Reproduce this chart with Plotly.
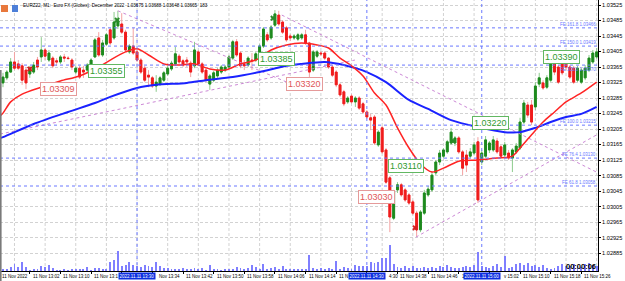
import plotly.graph_objects as go

TITLE = "EURZ22, M1:  Euro FX (Globex): December 2022  1.03675 1.03688 1.03648 1.03665  183"

# ---- one-minute bars, 11 Nov 2022 12:55 ... 15:30 (bar index 0..155) ----
open_ = [1.03324, 1.03337, 1.03352, 1.03378, 1.03373, 1.03368, 1.03357, 1.03347, 1.03352, 1.03383,
         1.03391, 1.03409, 1.03383, 1.03388, 1.03381, 1.03378, 1.03391, 1.03388, 1.03383, 1.03352,
         1.03362, 1.03357, 1.03357, 1.03362, 1.03391, 1.03440, 1.03396, 1.03424, 1.03461, 1.03440,
         1.03471, 1.03476, 1.03455, 1.03404, 1.03419, 1.03404, 1.03383, 1.03362, 1.03344, 1.03337,
         1.03316, 1.03321, 1.03331, 1.03347, 1.03360, 1.03373, 1.03393, 1.03381, 1.03383, 1.03375,
         1.03368, 1.03404, 1.03373, 1.03357, 1.03321, 1.03331, 1.03342, 1.03352, 1.03357, 1.03365,
         1.03388, 1.03430, 1.03401, 1.03373, 1.03370, 1.03383, 1.03383, 1.03388, 1.03419, 1.03448,
         1.03440, 1.03473, 1.03499, 1.03481, 1.03466, 1.03445, 1.03440, 1.03437, 1.03440, 1.03448,
         1.03427, 1.03357, 1.03393, 1.03401, 1.03401, 1.03388, 1.03365, 1.03352, 1.03319, 1.03301,
         1.03275, 1.03290, 1.03275, 1.03285, 1.03270, 1.03249, 1.03234, 1.03236, 1.03164, 1.03208,
         1.03151, 1.03079, 1.02975, 1.03048, 1.03061, 1.03048, 1.03035, 1.03017, 1.02988, 1.02945,
         1.02988, 1.03035, 1.03048, 1.03092, 1.03120, 1.03135, 1.03146, 1.03169, 1.03169, 1.03182,
         1.03146, 1.03138, 1.03135, 1.03143, 1.03172, 1.03120, 1.03135, 1.03151, 1.03151, 1.03174,
         1.03159, 1.03138, 1.03143, 1.03130, 1.03146, 1.03156, 1.03223, 1.03267, 1.03267, 1.03262,
         1.03321, 1.03324, 1.03313, 1.03331, 1.03375, 1.03365, 1.03399, 1.03388, 1.03365, 1.03362,
         1.03331, 1.03326, 1.03337, 1.03357, 1.03378, 1.03391]
high = [1.03350, 1.03357, 1.03388, 1.03404, 1.03383, 1.03375, 1.03365, 1.03368, 1.03378, 1.03391,
        1.03442, 1.03414, 1.03409, 1.03393, 1.03388, 1.03396, 1.03399, 1.03393, 1.03388, 1.03368,
        1.03368, 1.03368, 1.03375, 1.03388, 1.03440, 1.03455, 1.03435, 1.03453, 1.03466, 1.03507,
        1.03510, 1.03504, 1.03461, 1.03424, 1.03466, 1.03409, 1.03388, 1.03368, 1.03357, 1.03342,
        1.03344, 1.03342, 1.03355, 1.03368, 1.03381, 1.03417, 1.03399, 1.03386, 1.03391, 1.03381,
        1.03430, 1.03409, 1.03378, 1.03362, 1.03347, 1.03355, 1.03362, 1.03370, 1.03370, 1.03396,
        1.03435, 1.03437, 1.03406, 1.03383, 1.03393, 1.03401, 1.03404, 1.03424, 1.03468, 1.03455,
        1.03473, 1.03512, 1.03510, 1.03486, 1.03471, 1.03450, 1.03450, 1.03453, 1.03453, 1.03461,
        1.03430, 1.03409, 1.03409, 1.03406, 1.03406, 1.03391, 1.03370, 1.03357, 1.03324, 1.03306,
        1.03290, 1.03295, 1.03290, 1.03290, 1.03275, 1.03254, 1.03244, 1.03241, 1.03202, 1.03213,
        1.03156, 1.03084, 1.03048, 1.03068, 1.03066, 1.03053, 1.03040, 1.03022, 1.02994, 1.02996,
        1.03048, 1.03058, 1.03094, 1.03125, 1.03151, 1.03156, 1.03177, 1.03208, 1.03187, 1.03187,
        1.03151, 1.03151, 1.03156, 1.03172, 1.03184, 1.03151, 1.03187, 1.03174, 1.03187, 1.03182,
        1.03164, 1.03172, 1.03151, 1.03156, 1.03169, 1.03234, 1.03280, 1.03275, 1.03280, 1.03326,
        1.03350, 1.03331, 1.03344, 1.03393, 1.03409, 1.03370, 1.03404, 1.03393, 1.03370, 1.03368,
        1.03368, 1.03362, 1.03370, 1.03396, 1.03409, 1.03414]
low = [1.03313, 1.03331, 1.03350, 1.03357, 1.03357, 1.03319, 1.03308, 1.03337, 1.03347, 1.03357,
       1.03378, 1.03383, 1.03378, 1.03362, 1.03368, 1.03373, 1.03378, 1.03383, 1.03357, 1.03347,
       1.03334, 1.03337, 1.03352, 1.03357, 1.03388, 1.03391, 1.03391, 1.03419, 1.03422, 1.03435,
       1.03463, 1.03450, 1.03404, 1.03399, 1.03396, 1.03378, 1.03347, 1.03326, 1.03313, 1.03311,
       1.03301, 1.03316, 1.03326, 1.03342, 1.03355, 1.03368, 1.03373, 1.03365, 1.03365, 1.03339,
       1.03362, 1.03368, 1.03347, 1.03326, 1.03306, 1.03326, 1.03337, 1.03347, 1.03352, 1.03360,
       1.03383, 1.03391, 1.03362, 1.03357, 1.03365, 1.03357, 1.03378, 1.03383, 1.03414, 1.03430,
       1.03435, 1.03468, 1.03471, 1.03450, 1.03430, 1.03432, 1.03435, 1.03432, 1.03435, 1.03422,
       1.03339, 1.03352, 1.03388, 1.03393, 1.03383, 1.03360, 1.03339, 1.03313, 1.03288, 1.03264,
       1.03270, 1.03270, 1.03262, 1.03254, 1.03244, 1.03231, 1.03202, 1.03164, 1.03159, 1.03141,
       1.03063, 1.02939, 1.02970, 1.03040, 1.03030, 1.03017, 1.03009, 1.02983, 1.02927, 1.02939,
       1.02983, 1.03030, 1.03043, 1.03086, 1.03112, 1.03130, 1.03141, 1.03164, 1.03161, 1.03141,
       1.03086, 1.03094, 1.03130, 1.03138, 1.03014, 1.03112, 1.03130, 1.03143, 1.03146, 1.03141,
       1.03130, 1.03133, 1.03125, 1.03094, 1.03141, 1.03151, 1.03218, 1.03234, 1.03215, 1.03254,
       1.03313, 1.03306, 1.03308, 1.03326, 1.03344, 1.03321, 1.03344, 1.03357, 1.03334, 1.03321,
       1.03326, 1.03321, 1.03331, 1.03352, 1.03373, 1.03386]
close = [1.03339, 1.03352, 1.03378, 1.03362, 1.03362, 1.03331, 1.03324, 1.03362, 1.03370, 1.03365,
         1.03409, 1.03393, 1.03401, 1.03368, 1.03378, 1.03391, 1.03388, 1.03387, 1.03365, 1.03362,
         1.03339, 1.03352, 1.03370, 1.03383, 1.03435, 1.03396, 1.03427, 1.03448, 1.03427, 1.03481,
         1.03484, 1.03455, 1.03409, 1.03419, 1.03401, 1.03383, 1.03352, 1.03331, 1.03339, 1.03316,
         1.03326, 1.03337, 1.03350, 1.03362, 1.03375, 1.03399, 1.03378, 1.03370, 1.03378, 1.03352,
         1.03409, 1.03373, 1.03352, 1.03331, 1.03342, 1.03350, 1.03357, 1.03365, 1.03365, 1.03391,
         1.03430, 1.03396, 1.03368, 1.03368, 1.03388, 1.03381, 1.03399, 1.03419, 1.03463, 1.03435,
         1.03468, 1.03502, 1.03476, 1.03455, 1.03435, 1.03440, 1.03445, 1.03448, 1.03448, 1.03427,
         1.03352, 1.03404, 1.03404, 1.03399, 1.03388, 1.03365, 1.03344, 1.03319, 1.03293, 1.03270,
         1.03285, 1.03275, 1.03285, 1.03259, 1.03249, 1.03236, 1.03228, 1.03169, 1.03197, 1.03146,
         1.03068, 1.02978, 1.03043, 1.03061, 1.03035, 1.03022, 1.03014, 1.02988, 1.02945, 1.02991,
         1.03040, 1.03050, 1.03086, 1.03120, 1.03143, 1.03151, 1.03172, 1.03197, 1.03182, 1.03146,
         1.03104, 1.03112, 1.03146, 1.03164, 1.03022, 1.03143, 1.03177, 1.03169, 1.03177, 1.03146,
         1.03135, 1.03164, 1.03130, 1.03151, 1.03161, 1.03223, 1.03272, 1.03241, 1.03223, 1.03316,
         1.03337, 1.03311, 1.03337, 1.03383, 1.03352, 1.03326, 1.03350, 1.03365, 1.03339, 1.03326,
         1.03362, 1.03357, 1.03362, 1.03388, 1.03401, 1.03404]
volume = [80, 80, 140, 235, 140, 325, 150, 35, 60, 46,
          175, 140, 210, 95, 35, 25, 60, 35, 60, 46,
          60, 80, 150, 35, 95, 105, 70, 46, 315, 395,
          700, 185, 220, 315, 220, 175, 140, 210, 185, 130,
          315, 165, 95, 95, 60, 60, 80, 95, 46, 70,
          95, 46, 95, 35, 210, 46, 46, 35, 46, 70,
          80, 140, 115, 46, 95, 210, 140, 80, 235, 80,
          95, 140, 60, 175, 70, 70, 60, 46, 60, 70,
          560, 95, 80, 115, 70, 95, 46, 350, 80, 140,
          95, 70, 210, 175, 175, 175, 325, 290, 315, 445,
          445, 910, 255, 140, 95, 175, 115, 175, 95, 95,
          140, 95, 140, 115, 175, 140, 210, 140, 95, 95,
          140, 175, 140, 210, 675, 175, 140, 95, 175, 235,
          140, 525, 95, 140, 235, 290, 210, 290, 165, 210,
          140, 210, 95, 60, 115, 175, 235, 175, 175, 235,
          175, 140, 235, 290, 210, 183]

# moving averages (bar index, price)
ma_fast_idx = [-1, 0, 2, 5, 10, 15, 20, 25, 28, 32, 35, 38, 42, 46, 50, 54, 58, 62, 66, 70, 74, 78,
               82, 85, 88, 91, 94, 97, 100, 103, 106, 109, 112, 115, 119, 124, 129, 133, 135, 138,
               141, 144, 147, 151, 155]
ma_fast = [1.03236, 1.03246, 1.03275, 1.03295, 1.03313, 1.03329, 1.03342, 1.03365, 1.03383, 1.03404,
           1.03412, 1.03396, 1.03373, 1.03370, 1.03373, 1.03360, 1.03357, 1.03373, 1.03383, 1.03409,
           1.03422, 1.03427, 1.03422, 1.03414, 1.03388, 1.03368, 1.03342, 1.03298, 1.03267, 1.03208,
           1.03156, 1.03115, 1.03094, 1.03104, 1.03122, 1.03125, 1.03130, 1.03135, 1.03156, 1.03190,
           1.03223, 1.03249, 1.03275, 1.03298, 1.03326]
ma_slow_idx = [-1, 0, 8, 17, 24, 28, 35, 40, 48, 53, 60, 67, 74, 78, 84, 89, 95, 100, 106, 111,
               117, 124, 131, 135, 139, 143, 147, 151, 155]
ma_slow = [1.03181, 1.03184, 1.03218, 1.03249, 1.03272, 1.03288, 1.03311, 1.03319, 1.03324, 1.03331,
           1.03339, 1.03352, 1.03368, 1.03373, 1.03378, 1.03370, 1.03352, 1.03326, 1.03280, 1.03257,
           1.03228, 1.03210, 1.03197, 1.03197, 1.03208, 1.03223, 1.03236, 1.03244, 1.03262]

# axis ticks
price_ticks = [1.03525, 1.03485, 1.03445, 1.03405, 1.03365, 1.03325, 1.03285, 1.03245, 1.03205,
               1.03165, 1.03125, 1.03085, 1.03045, 1.03005, 1.02965, 1.02925, 1.02885]
time_tick_idx = [7, 15, 23, 31, 39, 47, 55, 63, 71, 79, 87, 95, 103, 111, 119, 127, 135, 143, 151]
time_tick_text = ["11 Nov 13:02", "11 Nov 13:10", "11 Nov 13:18", "11 Nov 13:26", "11 Nov 13:34",
                  "11 Nov 13:42", "11 Nov 13:50", "11 Nov 13:58", "11 Nov 14:06", "11 Nov 14:14",
                  "11 Nov 14:22", "11 Nov 14:30", "11 Nov 14:38", "11 Nov 14:46", "11 Nov 14:54",
                  "11 Nov 15:02", "11 Nov 15:10", "11 Nov 15:18", "11 Nov 15:26"]
grid_idx = [3, 11, 19, 27, 35, 43, 51, 59, 67, 75, 83, 91, 99, 107, 115, 123, 131, 139, 147, 155]
vline_idx = [35, 95, 125]
vline_text = ["2022.11.11 13:30", "2022.11.11 14:30", "2022.11.11 15:00"]

# Fibonacci expansion levels
fe_names = ["FE 161.8", "FE 150.0", "FE 100.0", "FE 100.0", "FE 76.4", "FE 61.8"]
fe_levels = [1.03466, 1.03419, 1.03370, 1.03215, 1.03130, 1.03058]
fe_label_below = [False, False, True, False, False, False]

# price label boxes
label_idx = [14.6, 27.0, 71.5, 78.6, 97.4, 105.2, 127.4, 145.8]
label_price = [1.03309, 1.03355, 1.03385, 1.03320, 1.03030, 1.03110, 1.03220, 1.03390]
label_side = ["dn", "up", "up", "dn", "dn", "up", "up", "up"]

# cross marks
mark_idx = [7, 29.8, 70.5, 107.6, 117.5, 142.3]
mark_price = [1.03360, 1.03486, 1.03491, 1.02950, 1.03174, 1.03381]
mark_side = ["dn", "up", "up", "dn", "up", "up"]

# dotted trend lines (start idx, start price, end idx, end price)
trend_x0 = [30.0, 72.8, -0.78, 107.8]
trend_p0 = [1.03510, 1.03499, 1.03192, 1.02926]
trend_x1 = [78.9, 155.35, 91.9, 155.35]
trend_p1 = [1.03306, 1.03092, 1.03383, 1.03192]

# ------------------------------------------------------------------
W, H = 625, 281
ML, MR, MT, MB = 0, 27, 0, 10
PW, PH = W - ML - MR, H - MT - MB
X_RANGE = [-0.78, 155.35]
Y_RANGE = [1.028387, 1.035379]
VOL_PER_PX = 35.0
PX_PER_BAR = PW / (X_RANGE[1] - X_RANGE[0])
HL_HALF = 19.0        # half width (px) of the blue time highlight boxes
CHAR_PX = 2.25        # approx width (px) of one character of the small axis font

FONT = "Liberation Sans"
UP_BODY, DN_BODY = "#1e8a1e", "#f01c1c"
UP_WICK, DN_WICK = "#8ccb8c", "#f3a2a2"
BLUE = "#6a78ff"
PINK = "#cc88d6"

idx = list(range(len(open_)))
body_hi = [max(o, c) for o, c in zip(open_, close)]
body_lo = [min(o, c) for o, c in zip(open_, close)]

fig = go.Figure()

fig.add_trace(go.Bar(x=idx, y=volume, yaxis="y2", width=0.24,
                     marker=dict(color="#7f7fff", line=dict(width=0)),
                     hoverinfo="skip", showlegend=False))

fig.add_trace(go.Candlestick(x=idx, open=open_, high=high, low=low, close=close,
                             increasing=dict(line=dict(color=UP_WICK, width=1), fillcolor=UP_WICK),
                             decreasing=dict(line=dict(color=DN_WICK, width=1), fillcolor=DN_WICK),
                             whiskerwidth=0, hoverinfo="skip", showlegend=False))
fig.add_trace(go.Candlestick(x=idx, open=open_, high=body_hi, low=body_lo, close=close,
                             increasing=dict(line=dict(color=UP_BODY, width=1), fillcolor=UP_BODY),
                             decreasing=dict(line=dict(color=DN_BODY, width=1), fillcolor=DN_BODY),
                             whiskerwidth=0, hoverinfo="skip", showlegend=False))

for x0, p0, x1, p1 in zip(trend_x0, trend_p0, trend_x1, trend_p1):
    fig.add_trace(go.Scatter(x=[x0, x1], y=[p0, p1], mode="lines",
                             line=dict(color=PINK, width=1, dash="dot"),
                             hoverinfo="skip", showlegend=False))

fig.add_trace(go.Scatter(x=ma_slow_idx, y=ma_slow, mode="lines",
                         line=dict(color="#1a22ff", width=2, shape="spline", smoothing=0.8),
                         hoverinfo="skip", showlegend=False))
fig.add_trace(go.Scatter(x=ma_fast_idx, y=ma_fast, mode="lines",
                         line=dict(color="#ff2424", width=1.5, shape="spline", smoothing=0.8),
                         hoverinfo="skip", showlegend=False))

fig.add_trace(go.Scatter(x=mark_idx, y=mark_price, mode="markers",
                         marker=dict(symbol="x", size=5,
                                     color=["#2a8a2a" if s == "up" else "#d42020" for s in mark_side],
                                     line=dict(width=0)),
                         hoverinfo="skip", showlegend=False))

shapes = []
for g in grid_idx:
    shapes.append(dict(type="line", xref="x", yref="paper", x0=g, x1=g, y0=0, y1=1,
                       line=dict(color="#d2d2d2", width=1, dash="3px,2px"), layer="below"))
for lv in fe_levels:
    shapes.append(dict(type="line", xref="paper", yref="y", x0=0, x1=1, y0=lv, y1=lv,
                       line=dict(color=BLUE, width=1, dash="dot")))
for v in vline_idx:
    shapes.append(dict(type="line", xref="x", yref="paper", x0=v, x1=v, y0=0, y1=1,
                       line=dict(color=BLUE, width=1, dash="dot")))
shapes.append(dict(type="rect", xref="paper", yref="paper", x0=1 / PW, x1=8 / PW,
                   y0=1 - 12 / PH, y1=1 - 5 / PH, fillcolor="#e8783c", line=dict(width=0)))
shapes.append(dict(type="rect", xref="paper", yref="paper", x0=12 / PW, x1=18 / PW,
                   y0=1 - 12 / PH, y1=1 - 5 / PH, fillcolor="#4d7fd8", line=dict(width=0)))
shapes.append(dict(type="line", xref="paper", yref="paper", x0=0.001, x1=0.001,
                   y0=-MB / PH, y1=1 - 70 / PH, line=dict(color="#7a7a7a", width=2)))

ann = []
ann.append(dict(text=TITLE, xref="paper", yref="paper", x=21 / PW, y=1 - 5.5 / PH,
                xanchor="left", yanchor="middle", showarrow=False,
                font=dict(family=FONT, size=4.6, color="#000000")))

for name, lv, below in zip(fe_names, fe_levels, fe_label_below):
    ann.append(dict(text=f"{name} {lv:.5f}", xref="paper", yref="y", x=1, y=lv,
                    xanchor="right", yanchor="top" if below else "bottom", showarrow=False,
                    yshift=0 if below else -1,
                    font=dict(family=FONT, size=4.5, color=BLUE)))

for li, lp, ls in zip(label_idx, label_price, label_side):
    tc, bc = ("#2f9a2f", "#62b862") if ls == "up" else ("#e05656", "#e59a9a")
    ann.append(dict(text=f"{lp:.5f}", xref="x", yref="y", x=li, y=lp, showarrow=False,
                    xanchor="center", yanchor="middle", bgcolor="#ffffff", bordercolor=bc,
                    borderwidth=1, borderpad=1, font=dict(family=FONT, size=9, color=tc)))


def bar_px(i):
    return (i - X_RANGE[0]) * PX_PER_BAR


axis_font = dict(family=FONT, size=4.5, color="#000000")
ann.append(dict(text="11 Nov 2022", xref="paper", yref="paper", x=0, y=0, yshift=-1,
                xanchor="left", yanchor="top", showarrow=False, font=axis_font))
# time labels; the parts hidden behind the blue highlight boxes are left out
hl_spans = [(bar_px(v) - HL_HALF, bar_px(v) + HL_HALF) for v in vline_idx]
for ti, tt in zip(time_tick_idx, time_tick_text):
    x0 = bar_px(ti) + 1
    x1 = x0 + len(tt) * CHAR_PX
    text, start = tt, x0
    for a, b in hl_spans:
        if x1 <= a or x0 >= b:
            continue
        if x0 < a:                      # visible head only
            n = int((a - x0) / CHAR_PX)
            text = tt[:n].rstrip()
        else:                           # visible tail only
            n = int((x1 - b) / CHAR_PX)
            text = tt[len(tt) - n:].lstrip() if n > 0 else ""
            start = b + 1
    if not text:
        continue
    ann.append(dict(text=text, xref="paper", yref="paper", x=start / PW, y=0, yshift=-1,
                    xanchor="left", yanchor="top", showarrow=False, font=axis_font))
for vi, vt in zip(vline_idx, vline_text):
    ann.append(dict(text=vt, xref="x", yref="paper", x=vi, y=0, yshift=-1,
                    xanchor="center", yanchor="top", showarrow=False, bgcolor="#0d2fe0",
                    borderpad=0.5, font=dict(family=FONT, size=4.5, color="#ffffff")))

ann.append(dict(text="<b>00:00:06</b>", xref="paper", yref="paper", x=1, y=1 - 266 / PH,
                xanchor="right", yanchor="middle", showarrow=False,
                font=dict(family=FONT, size=7.5, color="#000000")))

fig.update_layout(
    width=W, height=H,
    margin=dict(l=ML, r=MR, t=MT, b=MB, pad=0),
    paper_bgcolor="#ffffff", plot_bgcolor="#ffffff",
    showlegend=False, bargap=0,
    shapes=shapes, annotations=ann,
    xaxis=dict(type="linear", range=X_RANGE, rangeslider=dict(visible=False),
               showgrid=False, zeroline=False, showline=True, linecolor="#000000", linewidth=1,
               tickmode="array", tickvals=time_tick_idx, ticks="outside", ticklen=2,
               tickcolor="#000000", showticklabels=False, fixedrange=True),
    yaxis=dict(range=Y_RANGE, side="right", tickmode="array", tickvals=price_ticks,
               ticktext=[f"{p:.5f}" for p in price_ticks],
               showgrid=True, gridcolor="#d2d2d2", griddash="3px,2px", gridwidth=1,
               zeroline=False, showline=True, linecolor="#000000", linewidth=1,
               ticks="outside", ticklen=2, tickcolor="#000000",
               tickfont=dict(family=FONT, size=5.6, color="#000000"), fixedrange=True),
    yaxis2=dict(range=[0, VOL_PER_PX * PH], overlaying="y", visible=False, fixedrange=True),
)

fig.write_html("out.html", config={"displayModeBar": False})
